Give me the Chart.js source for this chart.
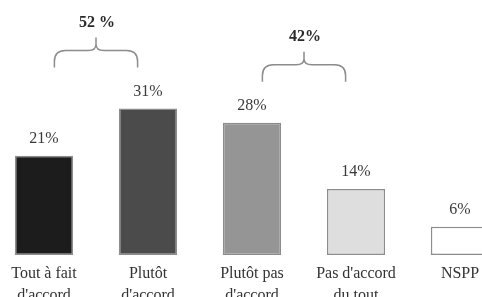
<!DOCTYPE html>
<html>
<head>
<meta charset="utf-8">
<script src="https://cdn.jsdelivr.net/npm/chart.js@4"></script>
<style>
  html, body { margin: 0; padding: 0; background: #fff; overflow: hidden; }
  body { width: 482px; height: 297px; position: relative; }
  #wrap { position: absolute; left: -8px; top: 0; width: 520px; height: 310px; }
</style>
</head>
<body>
<div id="wrap"><canvas id="c" width="520" height="310"></canvas></div>
<script>
const categories = [["Tout à fait", "d'accord"], ["Plutôt", "d'accord"], ["Plutôt pas", "d'accord"], ["Pas d'accord", "du tout"], ["NSPP"]];
const values = [21, 31, 28, 14, 6];
const barColors = ["#1c1c1c", "#4b4b4b", "#959595", "#dedede", "#ffffff"];
const groupFrom = [0, 2];
const groupTo = [1, 3];
const groupLabels = ["52 %", "42%"];

const FONT = "'Liberation Serif', 'Times New Roman', serif";

const labelPlugin = {
  id: 'valueLabels',
  afterDatasetsDraw(chart) {
    const ctx = chart.ctx;
    const meta = chart.getDatasetMeta(0);
    ctx.save();
    ctx.font = "16px " + FONT;
    ctx.fillStyle = "#3a3a3a";
    ctx.textAlign = "center";
    ctx.textBaseline = "middle";
    meta.data.forEach((bar, i) => {
      ctx.fillText(values[i] + "%", bar.x, bar.y - 17);
    });
    // braces
    const xs = chart.scales.x;
    const spacing = xs.getPixelForValue(1) - xs.getPixelForValue(0);
    groupFrom.forEach((f, g) => {
      const t = groupTo[g];
      const cx = (meta.data[f].x + meta.data[t].x) / 2;
      const topBar = Math.min(meta.data[f].y, meta.data[t].y);
      const bottom = topBar - 41;
      const mid = bottom - 17;
      const tip = bottom - 30;
      const half = spacing * 0.4;
      const L = cx - half, R = cx + half;
      const r = 11, r2 = 8;
      ctx.strokeStyle = "#8c8c8c";
      ctx.lineWidth = 1.5;
      ctx.beginPath();
      ctx.moveTo(L, bottom);
      ctx.lineTo(L, mid + r);
      ctx.quadraticCurveTo(L, mid, L + r, mid);
      ctx.lineTo(cx - r2, mid);
      ctx.quadraticCurveTo(cx, mid, cx, mid - 6);
      ctx.lineTo(cx, tip);
      ctx.moveTo(R, bottom);
      ctx.lineTo(R, mid + r);
      ctx.quadraticCurveTo(R, mid, R - r, mid);
      ctx.lineTo(cx + r2, mid);
      ctx.quadraticCurveTo(cx, mid, cx, mid - 6);
      ctx.stroke();
      ctx.font = "bold 16px " + FONT;
      ctx.fillStyle = "#2a2a2a";
      ctx.fillText(groupLabels[g], cx + 1, tip - 15);
    });
    ctx.restore();
  }
};

new Chart(document.getElementById('c'), {
  type: 'bar',
  data: {
    labels: categories,
    datasets: [{
      data: values,
      backgroundColor: barColors,
      borderColor: "#8c8c8c",
      borderWidth: 1.5,
      borderSkipped: false,
      categoryPercentage: 1,
      barPercentage: 0.56
    }]
  },
  options: {
    responsive: false,
    animation: false,
    devicePixelRatio: 1,
    layout: { padding: 0 },
    plugins: { legend: { display: false }, tooltip: { enabled: false } },
    scales: {
      x: {
        grid: { display: false, drawTicks: false },
        border: { display: false },
        ticks: {
          color: "#333",
          font: { family: FONT, size: 16, lineHeight: 1.35 },
          padding: 8,
          maxRotation: 0,
          autoSkip: false
        },
        afterFit(scale) { scale.height = 55; }
      },
      y: {
        display: false,
        min: 0,
        max: 54
      }
    }
  },
  plugins: [labelPlugin]
});
</script>
</body>
</html>
